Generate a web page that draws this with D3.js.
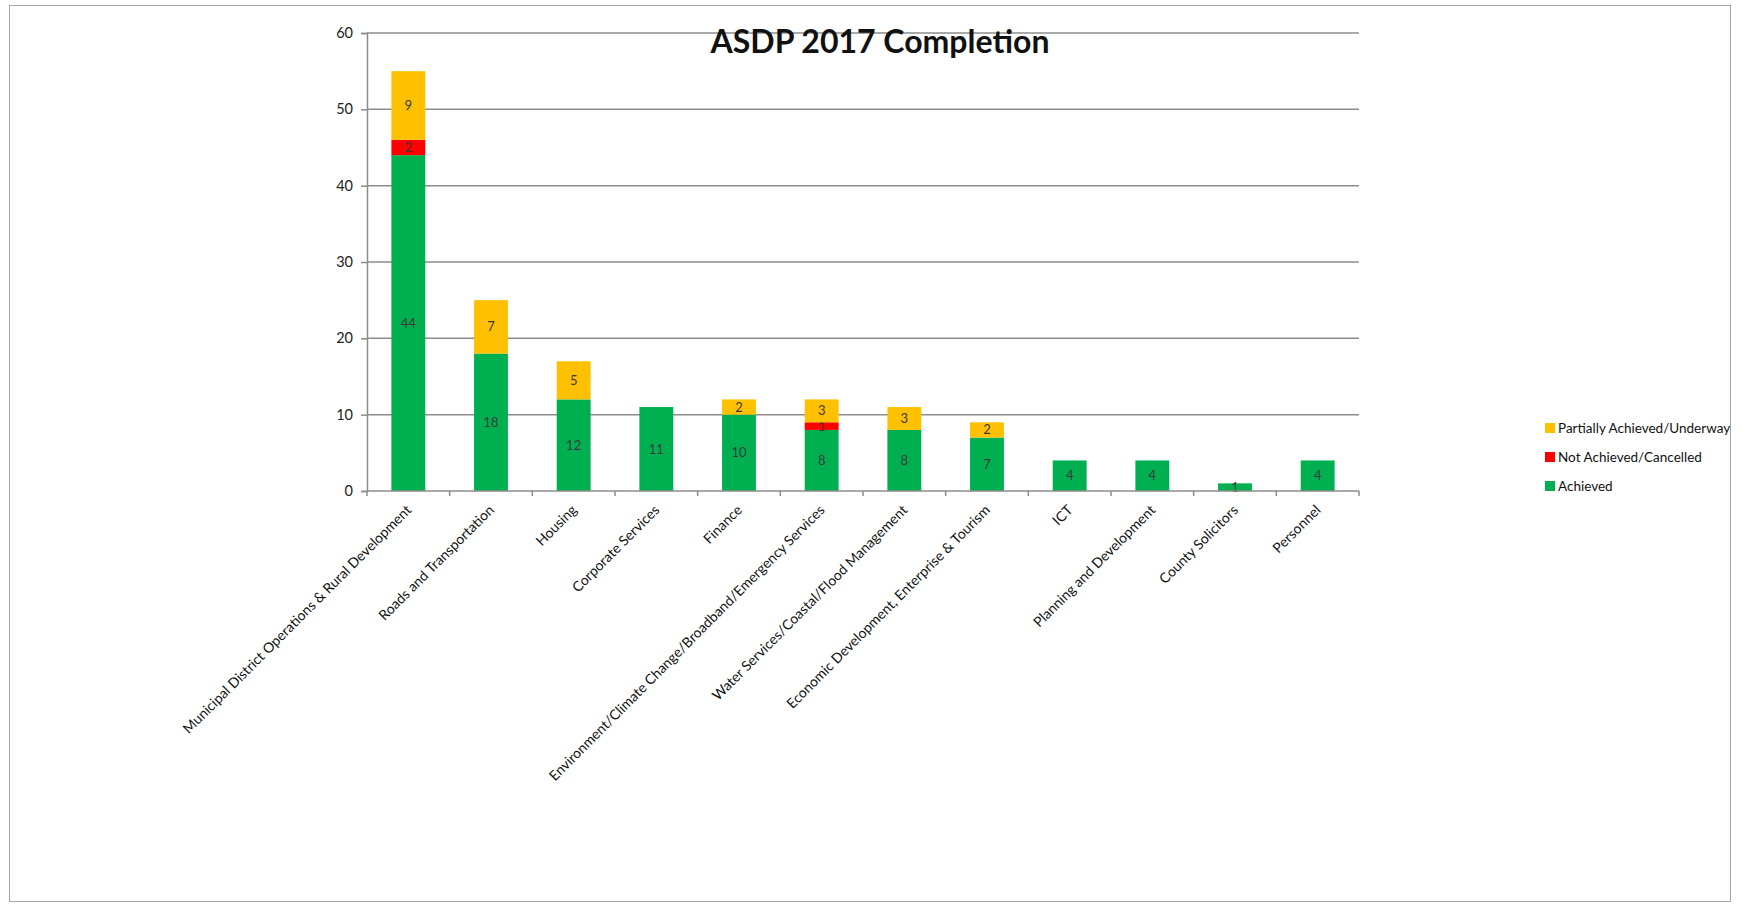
<!DOCTYPE html>
<html>
<head>
<meta charset="utf-8">
<script src="https://cdn.jsdelivr.net/npm/d3@7"></script>
<style>
  body { margin: 0; background: #fff; }
  svg { display: block; font-family: Lato, "Open Sans", sans-serif; }
</style>
</head>
<body>
<svg id="chart" width="1742" height="905"></svg>
<script>
// categories and stacked values
const categories = [
  "Municipal District Operations & Rural Development",
  "Roads and Transportation",
  "Housing",
  "Corporate Services",
  "Finance",
  "Environment/Climate Change/Broadband/Emergency Services",
  "Water Services/Coastal/Flood Management",
  "Economic Development, Enterprise & Tourism",
  "ICT",
  "Planning and Development",
  "County Solicitors",
  "Personnel"
];
const achieved    = [44, 18, 12, 11, 10, 8, 8, 7, 4, 4, 1, 4];
const notAchieved = [ 2,  0,  0,  0,  0, 1, 0, 0, 0, 0, 0, 0];
const partially   = [ 9,  7,  5,  0,  2, 3, 3, 2, 0, 0, 0, 0];
const yTicks = [0, 10, 20, 30, 40, 50, 60];

const seriesNames = ["Achieved", "Not Achieved/Cancelled", "Partially Achieved/Underway"];
const seriesColors = ["#00b050", "#ff0000", "#ffc000"];

const svg = d3.select("#chart");

// outer chart frame
svg.append("rect")
  .attr("x", 9.5).attr("y", 5.5)
  .attr("width", 1721).attr("height", 896)
  .attr("fill", "none").attr("stroke", "#a6a6a6").attr("stroke-width", 1);

const plot = { left: 367, right: 1359, top: 33, bottom: 491 };

const x = d3.scaleBand()
  .domain(categories)
  .range([plot.left, plot.right])
  .paddingInner(0.59).paddingOuter(0.295);

const y = d3.scaleLinear().domain([0, 60]).range([plot.bottom, plot.top]);

// gridlines
svg.append("g")
  .selectAll("line")
  .data(yTicks.filter(d => d > 0))
  .join("line")
  .attr("x1", plot.left).attr("x2", plot.right)
  .attr("y1", d => y(d)).attr("y2", d => y(d))
  .attr("stroke", "#8c8c8c").attr("stroke-width", 1.5);

// stacked data
const table = categories.map((c, i) => ({
  cat: c,
  "Achieved": achieved[i],
  "Not Achieved/Cancelled": notAchieved[i],
  "Partially Achieved/Underway": partially[i]
}));
const stacked = d3.stack().keys(seriesNames)(table);

const layers = svg.append("g")
  .selectAll("g")
  .data(stacked)
  .join("g")
  .attr("fill", (d, i) => seriesColors[i]);

layers.selectAll("rect")
  .data(d => d)
  .join("rect")
  .attr("x", d => x(d.data.cat))
  .attr("width", x.bandwidth())
  .attr("y", d => y(d[1]))
  .attr("height", d => y(d[0]) - y(d[1]));

// segment value labels
layers.selectAll("text")
  .data(d => d.filter(s => s[1] - s[0] > 0))
  .join("text")
  .attr("x", d => x(d.data.cat) + x.bandwidth() / 2)
  .attr("y", d => (y(d[0]) + y(d[1])) / 2)
  .attr("dy", "0.35em")
  .attr("text-anchor", "middle")
  .attr("fill", "#3a3a3a")
  .attr("font-size", 13)
  .text(d => d[1] - d[0]);

// y axis
const yAxis = svg.append("g")
  .attr("transform", `translate(${plot.left},0)`)
  .call(d3.axisLeft(y).tickValues(yTicks).tickSize(6).tickPadding(8));
yAxis.select(".domain").attr("stroke", "#8c8c8c").attr("stroke-width", 1.5);
yAxis.selectAll(".tick line").attr("stroke", "#8c8c8c").attr("stroke-width", 1.5);
yAxis.selectAll(".tick text")
  .attr("font-size", 14.5).attr("fill", "#222").attr("font-family", "Lato, sans-serif");

// x axis line and boundary ticks
const step = x.step();
const bounds = d3.range(categories.length + 1).map(i => plot.left + i * step);
svg.append("line")
  .attr("x1", plot.left).attr("x2", plot.right)
  .attr("y1", plot.bottom).attr("y2", plot.bottom)
  .attr("stroke", "#8c8c8c").attr("stroke-width", 1.5);
svg.append("g")
  .selectAll("line")
  .data(bounds)
  .join("line")
  .attr("x1", d => d).attr("x2", d => d)
  .attr("y1", plot.bottom).attr("y2", plot.bottom + 5)
  .attr("stroke", "#8c8c8c").attr("stroke-width", 1.5);

// rotated category labels
svg.append("g")
  .selectAll("text")
  .data(categories)
  .join("text")
  .attr("transform", d => `translate(${x(d) + x.bandwidth() / 2 - 3},${plot.bottom + 13}) rotate(-45)`)
  .attr("text-anchor", "end")
  .attr("dy", "0.7em")
  .attr("font-size", 14)
  .attr("fill", "#111")
  .text(d => d);

// title
svg.append("text")
  .attr("x", 880).attr("y", 53)
  .attr("text-anchor", "middle")
  .attr("font-size", 32)
  .attr("font-weight", "bold")
  .attr("fill", "#111")
  .text("ASDP 2017 Completion");

// legend (reversed order, like the original)
const legend = svg.append("g")
  .selectAll("g")
  .data(seriesNames.slice().reverse())
  .join("g")
  .attr("transform", (d, i) => `translate(1545,${428 + i * 29})`);
legend.append("rect")
  .attr("x", 0).attr("y", -5)
  .attr("width", 10).attr("height", 10)
  .attr("fill", d => seriesColors[seriesNames.indexOf(d)]);
legend.append("text")
  .attr("x", 13).attr("dy", "0.35em")
  .attr("font-size", 13.5)
  .attr("fill", "#111")
  .text(d => d);
</script>
</body>
</html>
